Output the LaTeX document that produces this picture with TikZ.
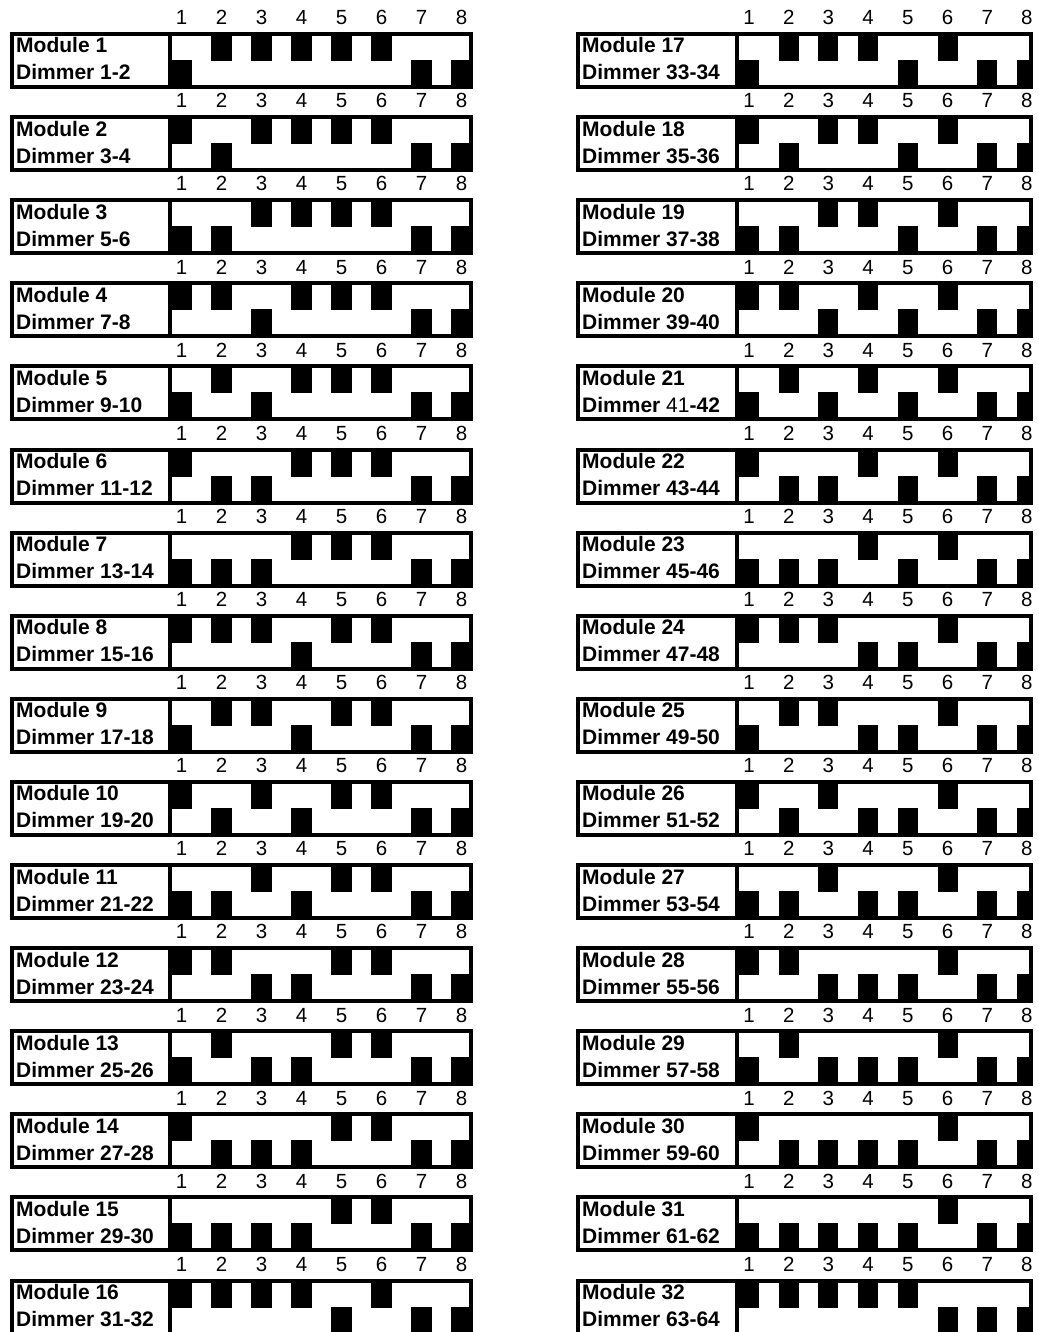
\documentclass[tikz,border=0pt]{standalone}
\usepackage{fontspec}
\setmainfont{Liberation Sans}
\begin{document}
\begin{tikzpicture}[x=1bp,y=-1bp,
  frame/.style={draw=black,line width=4bp},
  lbl/.style={anchor=base west,inner sep=0pt,font=\fontsize{21bp}{24bp}\selectfont\bfseries},
  num/.style={anchor=base,inner sep=0pt,font=\fontsize{20.5bp}{23bp}\selectfont},
  swblock/.style={fill=black}]
\useasboundingbox (0,0) rectangle (1038,1332);
\foreach \m in {1,...,32}{
  \pgfmathtruncatemacro{\col}{(\m-1)/16}
  \pgfmathtruncatemacro{\row}{mod(\m-1,16)}
  \pgfmathsetmacro{\yT}{32+83.1*\row}
  \pgfmathsetmacro{\yB}{\yT+57}
  \pgfmathsetmacro{\yM}{\yT+29}
  \pgfmathsetmacro{\yMd}{\yT+28}
  \pgfmathsetmacro{\yN}{\yT-7.2}
  \pgfmathsetmacro{\yA}{\yT+21}
  \pgfmathsetmacro{\yC}{\yT+48}
  \ifnum\col=0
    \def\xL{10}\def\xD{170}\def\xR{473}\def\bX{171}\def\pP{40}\def\bW{21}
  \else
    \def\xL{576}\def\xD{737}\def\xR{1033}\def\bX{739}\def\pP{39.7}\def\bW{20}
  \fi
  \pgfmathsetmacro{\xLi}{\xL+2}
  \pgfmathsetmacro{\xRi}{\xR-2}
  \pgfmathsetmacro{\yTi}{\yT+2}
  \pgfmathsetmacro{\yBi}{\yB-2}
  \pgfmathsetmacro{\xTx}{\xL+6}
  \pgfmathtruncatemacro{\da}{2*\m-1}
  \pgfmathtruncatemacro{\db}{2*\m}
  \draw[frame] (\xLi,\yTi) rectangle (\xRi,\yBi);
  \draw[frame] (\xD,\yT) -- (\xD,\yB);
  \node[lbl] (mod\m) at (\xTx,\yA) {Module \m};
  \ifnum\m=21
    \node[lbl] (dim\m) at (\xTx,\yC) {Dimmer {\mdseries\da}-\db};
  \else
    \node[lbl] (dim\m) at (\xTx,\yC) {Dimmer \da-\db};
  \fi
  \foreach \k in {1,...,8}{
    \pgfmathtruncatemacro{\bit}{\k>6 ? 1 : mod(floor(\m/2^(\k-1)),2)}
    \pgfmathsetmacro{\bl}{\bX+\pP*(\k-1)}
    \pgfmathsetmacro{\br}{min(\bl+\bW,\xR)}
    \pgfmathsetmacro{\bc}{\bl+\bW/2}
    \node[num] (n\m-\k) at (\bc,\yN) {\k};
    \ifnum\bit=1
      \fill[swblock] (\bl,\yMd) rectangle (\br,\yB);
    \else
      \fill[swblock] (\bl,\yT) rectangle (\br,\yM);
    \fi
  }
}
\end{tikzpicture}
\end{document}
